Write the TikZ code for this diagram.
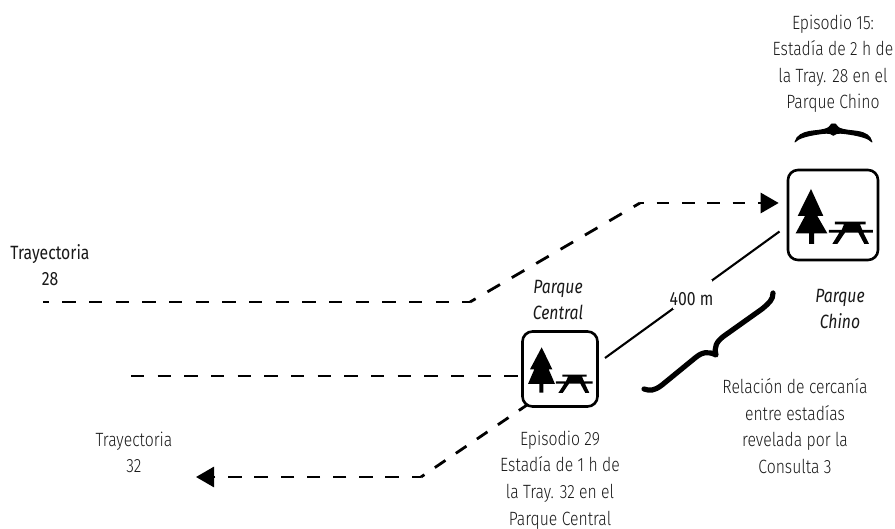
\documentclass[tikz,border=0pt]{standalone}
\usepackage{fontspec}
\setmainfont[FakeStretch=0.82]{Fira Sans Light}
\newfontfamily\regfont[FakeStretch=0.82]{Fira Sans}
\newfontfamily\itfont[FakeStretch=0.82]{Fira Sans Italic}
\usetikzlibrary{arrows.meta}
\tikzset{
  txt/.style={align=center,inner sep=0pt,font=\fontsize{19.2}{26.6}\selectfont,text=black!90},
  itxt/.style={txt,font=\fontsize{19.2}{26.6}\selectfont\itfont},
  regtxt/.style={txt,font=\fontsize{19.2}{26.6}\selectfont\regfont},
  iconbox/.style={draw=black,line width=2.6pt,rounded corners=10pt,minimum width=#1,minimum height=#1,inner sep=0pt},
  trail/.style={line width=2.8pt,dash pattern=on 13.4pt off 13.27pt},
  solidline/.style={line width=2.1pt},
  tip/.style={-{Triangle[length=18pt,width=20pt]}},
  bracepath/.style={line width=5.2pt,line cap=round,line join=round},
  pics/picnic/.style={code={
    \fill (153,237)--(190,318)--(172,318)--(202,370)--(162,370)--(162,402)--(147,402)--(147,370)--(107,370)--(135,318)--(113,318)--cycle;
    \fill (225,335)--(317,335)--(317,343)--(300,343)--(307,360)--(339,360)--(339,368)--(310,368)--(327,402)--(313,402)--(295,368)--(255,368)--(232,402)--(217,402)--(238,368)--(207,368)--(207,360)--(245,360)--(252,343)--(225,343)--cycle;
  }}
}
\begin{document}
\begin{tikzpicture}[x=1pt,y=-1pt]
\useasboundingbox (0,0) rectangle (895,529);
\node[iconbox=90pt] (chino) at (833,215) {};
\node[iconbox=75pt] (central) at (560,369) {};
\begin{scope}[shift={(760,110)},x=0.3333pt,y=-0.3333pt]
\pic {picnic};
\end{scope}
\begin{scope}[shift={(500,270)},x=0.3333pt,y=-0.3333pt]
\fill (125,232)--(157,298)--(146,298)--(165,342)--(130,342)--(130,368)--(118,368)--(118,342)--(84,342)--(103,298)--(90,298)--cycle;
\fill (187,314)--(260,314)--(260,320)--(246,320)--(252,334)--(278,334)--(278,341)--(255,341)--(268,369)--(256,369)--(241,341)--(207,341)--(188,369)--(175,369)--(193,341)--(168,341)--(168,334)--(198,334)--(204,320)--(187,320)--cycle;
\end{scope}
% trail 28
\coordinate (t28start) at (43,302);
\coordinate (t28a) at (470,302);
\coordinate (t28b) at (640,203);
\draw[trail,dash phase=7.3pt] (t28start) -- (t28a);
\draw[trail,dash pattern=on 14.5pt off 13.7pt,dash phase=8pt] (t28a) -- (t28b);
\draw[trail,dash pattern=on 12.7pt off 12.6pt,dash phase=8.7pt,tip] (t28b) -- ([xshift=-8pt]chino.west |- t28b);
% trail 32
\coordinate (t32start) at (131,376);
\coordinate (t32end) at (196,477);
\coordinate (t32a) at (421,477);
\coordinate (t32b) at (527,405);
\draw[trail] (t32start) -- (central.west |- t32start);
\draw[trail,dash pattern=on 12.8pt off 12.6pt,dash phase=3pt] (t32b) -- (t32a);
\draw[trail,dash pattern=on 13.4pt off 12.8pt,dash phase=4pt,tip] (t32a) -- (t32end);
% distance
\coordinate (dA) at (605,358);
\coordinate (dB) at (779.5,231.5);
\draw[solidline] (dA) -- node[fill=white,inner sep=0pt,minimum width=39pt,minimum height=29pt] (dlabelbg) {} (dB);
\node[regtxt] (dist) at (691.5,299) {400 m};
% top brace (filled, tapered)
\begin{scope}[shift={(760,110)},x=0.3333pt,y=-0.3333pt]
\fill[draw=black,line width=0.9pt,line join=round] (105,96) .. controls (110,76) and (128,68) .. (150,64) .. controls (180,60) and (208,60) .. (215,42) -- (226,42) .. controls (233,60) and (262,60) .. (292,64) .. controls (316,68) and (331,76) .. (336,96) .. controls (325,84) and (300,78) .. (270,73) .. controls (248,70) and (230,66) .. (220,76) .. controls (210,66) and (192,70) .. (170,73) .. controls (140,78) and (116,84) .. (105,96) -- cycle;
\end{scope}
% lower brace
\draw[bracepath] (644,389) .. controls (650,391) and (654,391) .. (662,385) -- (695,358) .. controls (702,352) and (708,351) .. (716,355) .. controls (714,347) and (716,342) .. (724,336) -- (762,309) .. controls (769,303) and (773,300) .. (773,293);
% labels
\node[txt] (epi15) at (833,63.7) {Episodio 15:\\Estadía de 2 h de\\la Tray. 28 en el\\Parque Chino};
\node[itxt] (pchino) at (840,309) {Parque\\Chino};
\node[itxt] (pcentral) at (558,300) {Parque\\Central};
\node[txt] (rel) at (795,426) {Relación de cercanía\\entre estadías\\revelada por la\\Consulta 3};
\node[txt] (epi29) at (560,480) {Episodio 29\\Estadía de 1 h de\\la Tray. 32 en el\\Parque Central};
\node[regtxt] (tr28) at (50,265) {Trayectoria\\28};
\node[txt] (tr32) at (134,452.5) {Trayectoria\\32};
\end{tikzpicture}
\end{document}
